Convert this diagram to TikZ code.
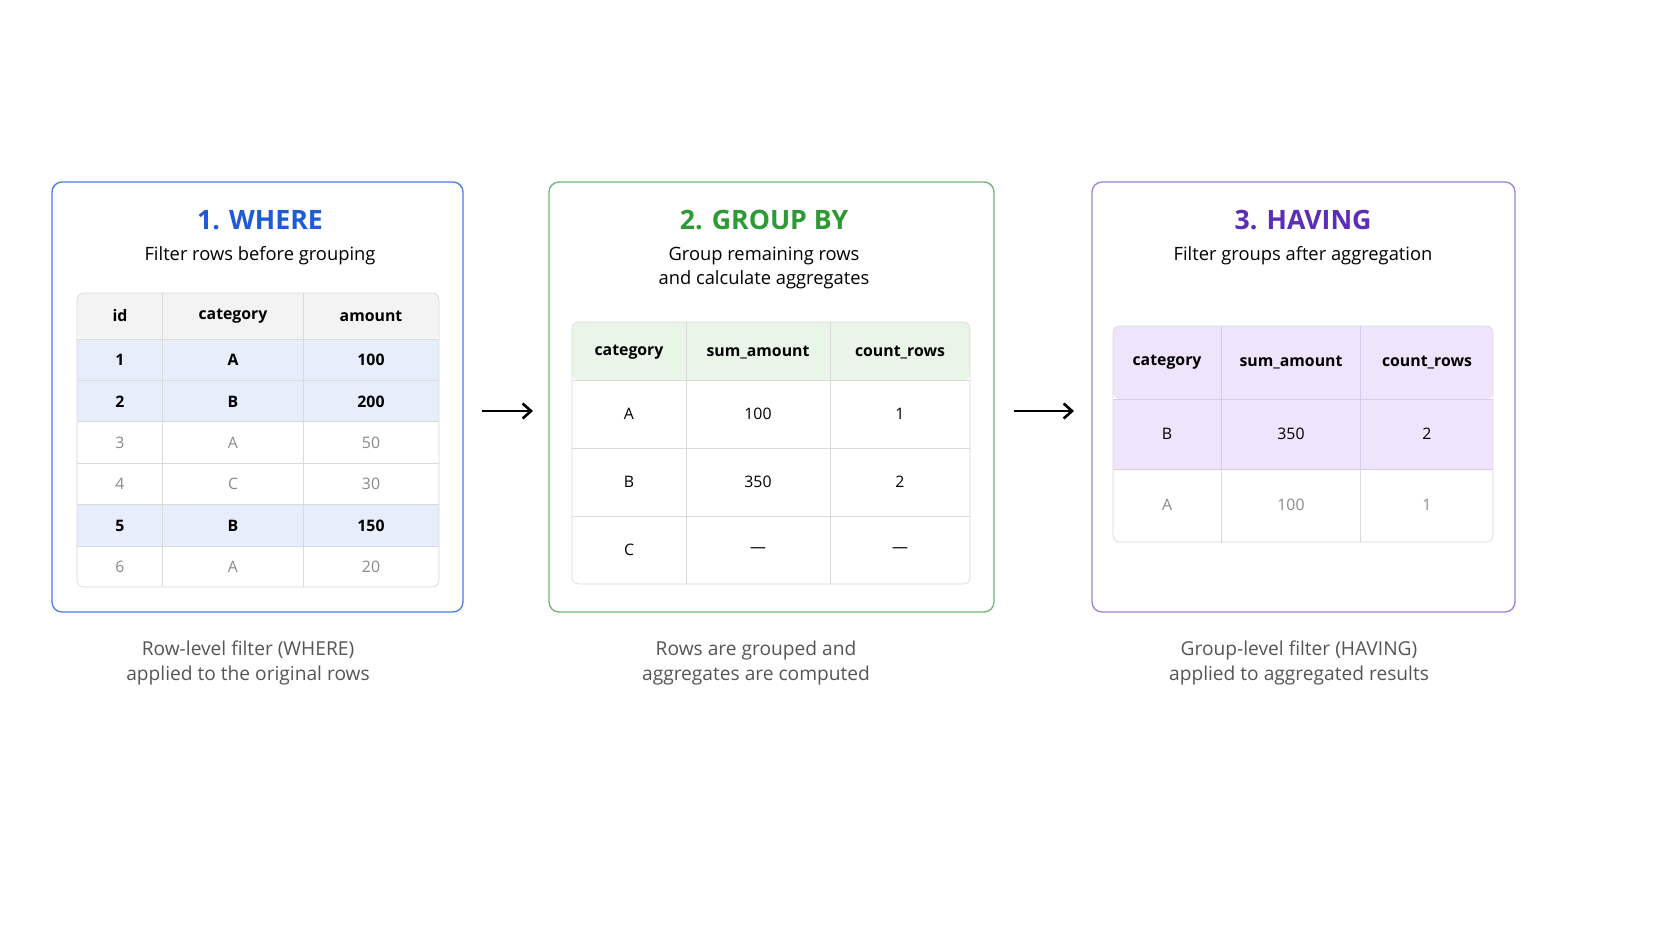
\documentclass[tikz,border=0pt]{standalone}
\usepackage{fontspec}
\setmainfont{Open Sans}
\usetikzlibrary{positioning,arrows.meta}
\definecolor{wblue}{HTML}{1E5BD8}
\definecolor{wgreen}{HTML}{2E9A35}
\definecolor{wpurple}{HTML}{5B2DB8}
\definecolor{bluefill}{HTML}{E6EEFB}
\definecolor{greenfill}{HTML}{E9F5E6}
\definecolor{purplefill}{HTML}{EEE4FB}
\definecolor{headfill}{HTML}{F3F3F3}
\definecolor{gridc}{HTML}{DADADA}
\definecolor{dimtext}{HTML}{8A8A8A}
\definecolor{captext}{HTML}{555555}
\tikzset{
  panel/.style={draw=#1, line width=0.8pt, rounded corners=6pt, fill=white},
  title/.style={font=\fontsize{16}{18}\selectfont\bfseries, text=#1},
  sub/.style={font=\fontsize{11}{14}\selectfont, align=center},
  caption/.style={font=\fontsize{11.5}{15}\selectfont, align=center, text=captext},
  cell/.style={font=\fontsize{9.5}{11}\selectfont},
  hcell/.style={font=\fontsize{9.5}{11}\selectfont\bfseries},
  dim/.style={font=\fontsize{9.5}{11}\selectfont, text=dimtext},
  flow/.style={-{Straight Barb[length=5pt,width=9pt]}, line width=1.6pt}
}
\begin{document}
\begin{tikzpicture}[x=0.6pt,y=-0.6pt]
\useasboundingbox (0,0) rectangle (1672,941);
% panels
\draw[panel=wblue!80] (52,182) rectangle (463,612);
\draw[panel=wgreen!70] (549,182) rectangle (994,612);
\draw[panel=wpurple!60] (1092,182) rectangle (1515,612);
\node[title=wblue] (t1) at (260,220) {1. WHERE};
\node[sub] (s1) at (260,256) {Filter rows before grouping};
\node[title=wgreen] (t2) at (764,220) {2. GROUP BY};
\node[sub] (s2) at (764,268) {Group remaining rows\\and calculate aggregates};
\node[title=wpurple] (t3) at (1303,220) {3. HAVING};
\node[sub] (s3) at (1303,256) {Filter groups after aggregation};

% table 1
\fill[headfill, rounded corners=4pt] (77,293) rectangle (439,339);
\foreach \ya/\yb in {339/380,380/421,504/546}
  \fill[bluefill] (77,\ya) rectangle (439,\yb);
\foreach \y in {339,380,421,463,504,546}
  \draw[gridc] (77,\y) -- (439,\y);
\foreach \x in {162,303}
  \draw[gridc] (\x,293) -- (\x,587);
\draw[gridc, rounded corners=4pt] (77,293) rectangle (439,587);
\node[hcell] (h11) at (120,316) {id};
\node[hcell] (h12) at (233,316) {category};
\node[hcell] (h13) at (371,316) {amount};
\foreach \i/\c/\a/\st [count=\n] in {1/A/100/hcell,2/B/200/hcell,3/A/50/dim,4/C/30/dim,5/B/150/hcell,6/A/20/dim}{
  \pgfmathsetmacro\yy{360+41.4*(\n-1)}
  \node[\st] (r1\n a) at (120,\yy) {\i};
  \node[\st] (r1\n b) at (233,\yy) {\c};
  \node[\st] (r1\n c) at (371,\yy) {\a};
}

% table 2
\fill[greenfill, rounded corners=4pt] (572,322) rectangle (970,380);
\foreach \y in {380,448,516}
  \draw[gridc] (572,\y) -- (970,\y);
\foreach \x in {686,830}
  \draw[gridc] (\x,322) -- (\x,584);
\draw[gridc, rounded corners=4pt] (572,322) rectangle (970,584);
\node[hcell] (h21) at (629,352) {category};
\node[hcell] (h22) at (758,352) {sum\_amount};
\node[hcell] (h23) at (900,352) {count\_rows};
\foreach \c/\s/\k [count=\n] in {A/100/1,B/350/2,C/---/---}{
  \pgfmathsetmacro\yy{414+68*(\n-1)}
  \node[cell] (r2\n a) at (629,\yy) {\c};
  \node[cell] (r2\n b) at (758,\yy) {\s};
  \node[cell] (r2\n c) at (900,\yy) {\k};
}

% table 3
\fill[purplefill, rounded corners=4pt] (1113,326) rectangle (1493,399);
\fill[purplefill] (1113,399) rectangle (1493,469);
\draw[wpurple!25] (1113,399) -- (1493,399);
\draw[wpurple!25] (1113,469) -- (1493,469);
\foreach \x in {1221,1360}{
  \draw[wpurple!25] (\x,326) -- (\x,469);
  \draw[gridc] (\x,469) -- (\x,542);
}
\draw[gridc, rounded corners=4pt] (1113,326) rectangle (1493,542);
\node[hcell] (h31) at (1167,362) {category};
\node[hcell] (h32) at (1291,362) {sum\_amount};
\node[hcell] (h33) at (1427,362) {count\_rows};
\node[cell] (r31a) at (1167,434) {B};
\node[cell] (r31b) at (1291,434) {350};
\node[cell] (r31c) at (1427,434) {2};
\node[dim] (r32a) at (1167,505) {A};
\node[dim] (r32b) at (1291,505) {100};
\node[dim] (r32c) at (1427,505) {1};

% arrows
\coordinate (a1s) at (482,411); \coordinate (a1e) at (533,411);
\coordinate (a2s) at (1014,411); \coordinate (a2e) at (1074,411);
\draw[flow] (a1s) -- (a1e);
\draw[flow] (a2s) -- (a2e);

% captions
\node[caption] (c1) at (248,663) {Row-level filter (WHERE)\\applied to the original rows};
\node[caption] (c2) at (756,663) {Rows are grouped and\\aggregates are computed};
\node[caption] (c3) at (1299,663) {Group-level filter (HAVING)\\applied to aggregated results};
\end{tikzpicture}
\end{document}
